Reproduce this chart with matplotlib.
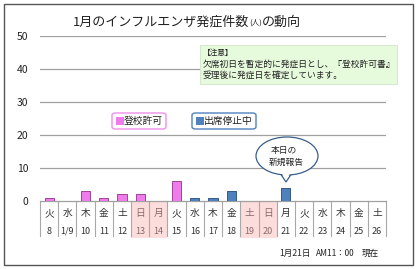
import matplotlib
matplotlib.use("Agg")
import matplotlib.pyplot as plt
from matplotlib.patches import Rectangle, FancyBboxPatch, Ellipse, Polygon
import matplotlib.transforms as mtransforms

plt.rcParams['font.family'] = ['Noto Sans CJK JP', 'DejaVu Sans']

days = ['8', '1/9', '10', '11', '12', '13', '14', '15', '16', '17', '18', '19', '20',
        '21', '22', '23', '24', '25', '26']
weekdays = ['火', '水', '木', '金', '土', '日', '月', '火', '水', '木', '金', '土', '日',
            '月', '火', '水', '木', '金', '土']
permit = [1, 0, 3, 1, 2, 2, 0, 6, 0, 0, 0, 0, 0, 0, 0, 0, 0, 0, 0]
suspend = [0, 0, 0, 0, 0, 0, 0, 0, 1, 1, 3, 0, 0, 4, 0, 0, 0, 0, 0]
holidays = [5, 6, 11, 12]
yticks = [0, 10, 20, 30, 40, 50]

W, H = 420, 269
fig = plt.figure(figsize=(W / 100, H / 100), dpi=100)


def fx(x):
    return x / W


def fy(y):
    return 1 - y / H


# outer frame
fig.patches.append(Rectangle((fx(4), fy(265)), fx(409), 261 / H, transform=fig.transFigure,
                             fill=False, edgecolor='#555555', linewidth=1.0))

ax = fig.add_axes([fx(40), fy(201), fx(386) - fx(40), fy(36) - fy(201)])
n = len(days)
x = list(range(n))
ax.set_xlim(-0.5, n - 0.5)
ax.set_ylim(0, 50)
ax.bar(x, permit, width=0.5, color='#F07CEC', edgecolor='#A0449A', linewidth=0.7, zorder=3)
ax.bar(x, suspend, width=0.5, color='#4F81BD', edgecolor='#35598A', linewidth=0.7, zorder=3)
ax.set_yticks(yticks)
ax.set_yticklabels([str(t) for t in yticks], fontsize=7.5, color='#222222')
ax.tick_params(axis='y', length=0, pad=8.5)
ax.set_xticks([])
for t in yticks[1:]:
    ax.axhline(t, color='#A0A0A0', linewidth=0.9, zorder=1)
for s in ['top', 'right', 'left']:
    ax.spines[s].set_visible(False)
ax.spines['bottom'].set_color('#A0A0A0')
ax.spines['bottom'].set_linewidth(0.9)

# table below axis
trans = mtransforms.blended_transform_factory(ax.transData, fig.transFigure)
for i in holidays:
    ax.add_patch(Rectangle((i - 0.5, fy(238)), 1, fy(201) - fy(238), transform=trans,
                           facecolor='#FDDCDC', edgecolor='none', clip_on=False, zorder=0))
for b in range(n + 1):
    ax.plot([b - 0.5, b - 0.5], [fy(201), fy(236)], transform=trans, color='#A8A8A8',
            linewidth=0.8, clip_on=False)
for i in range(n):
    col = '#8a6a6a' if i in holidays else '#333333'
    ax.text(i, fy(213), weekdays[i], transform=trans, ha='center', va='center', fontsize=7,
            color=col)
    ax.text(i, fy(231), days[i], transform=trans, ha='center', va='center', fontsize=6.5,
            color=col)

# title (placed piece by piece)
renderer = fig.canvas.get_renderer()
cur = 73
for txt, size, dy in [('1月のインフルエンザ発症件数', 9.4, 0), ('(人)', 5.5, 1), ('の動向', 9.4, 0)]:
    t = fig.text(fx(cur), fy(22 + dy), txt, fontsize=size, ha='left', va='center',
                 color='#222222')
    bb = t.get_window_extent(renderer=renderer)
    cur += bb.width

# note box
fig.patches.append(Rectangle((fx(200), fy(84)), fx(397) - fx(200), fy(45) - fy(84),
                             transform=fig.transFigure, facecolor='#E6FADC',
                             edgecolor='#D8E8D0', linewidth=0.8, zorder=5))
fig.text(fx(203), fy(53), '【注意】', fontsize=5.5, ha='left', va='center', color='#222222', zorder=6)
fig.text(fx(203), fy(64), '欠席初日を暫定的に発症日とし、『登校許可書』', fontsize=6.3, ha='left',
         va='center', color='#222222', zorder=6)
fig.text(fx(203), fy(75), '受理後に発症日を確定しています。', fontsize=6.3, ha='left',
         va='center', color='#222222', zorder=6)

# legend boxes
for (x0, x1, fc, ec, label) in [(112, 166, '#F07CEC', '#F090EC', '登校許可'),
                                 (192, 256, '#4F81BD', '#4F81BD', '出席停止中')]:
    fig.patches.append(FancyBboxPatch((fx(x0), fy(129)), fx(x1) - fx(x0), fy(113) - fy(129),
                                      boxstyle='round,pad=0,rounding_size=0.008',
                                      transform=fig.transFigure, facecolor='white',
                                      edgecolor=ec, linewidth=1.0, zorder=5))
    fig.patches.append(Rectangle((fx(x0 + 4), fy(125)), 8 / W, 8 / H, transform=fig.transFigure,
                                 facecolor=fc, edgecolor='none', zorder=6))
    fig.text(fx(x0 + 12), fy(121), label, fontsize=7, ha='left', va='center', color='#222222',
             zorder=6)

# callout
tail = Polygon([(fx(278), fy(170)), (fx(286), fy(182)), (fx(294), fy(170))], closed=True,
               transform=fig.transFigure, facecolor='white', edgecolor='#385D8A',
               linewidth=0.9, zorder=6)
fig.patches.append(tail)
fig.patches.append(Ellipse((fx(287), fy(156)), 62 / W, 38 / H, transform=fig.transFigure,
                           facecolor='white', edgecolor='#385D8A', linewidth=0.9, zorder=7))
fig.patches.append(Polygon([(fx(279), fy(169)), (fx(286), fy(180)), (fx(293), fy(169))],
                           closed=True, transform=fig.transFigure, facecolor='white',
                           edgecolor='none', zorder=8))
fig.text(fx(271), fy(150), '本日の', fontsize=6.3, ha='left', va='center', color='#222222', zorder=9)
fig.text(fx(269), fy(162), '新規報告', fontsize=6.3, ha='left', va='center', color='#222222', zorder=9)

# footer
fig.text(fx(279), fy(253), '1月21日', fontsize=6.2, ha='left', va='center', color='#222222')
fig.text(fx(316), fy(253), 'AM11：00', fontsize=6.0, ha='left', va='center', color='#222222')
fig.text(fx(362), fy(253), '現在', fontsize=6.2, ha='left', va='center', color='#222222')

fig.savefig('out.png', dpi=100)
